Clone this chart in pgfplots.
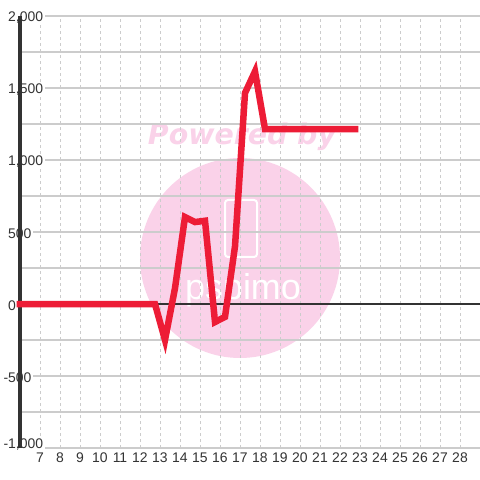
\documentclass[border=0pt]{standalone}
\usepackage{fontspec}
\setmainfont{Liberation Sans}
\newfontfamily\wmfont{DejaVu Sans}
\usepackage{pgfplots}
\pgfplotsset{compat=1.18}
\definecolor{linered}{RGB}{237,28,54}
\definecolor{wmpink}{RGB}{250,210,233}
\definecolor{gridgray}{RGB}{204,204,204}
\definecolor{axisdark}{RGB}{51,51,51}

\begin{document}
\begin{tikzpicture}
\path[use as bounding box, fill=white] (-20bp,-32bp) rectangle (460bp,448bp);
% watermark behind the grid
\fill[wmpink] (220bp,190bp) circle (100bp);
\node[wmpink, font=\wmfont\bfseries\itshape\fontsize{28.5}{29}\selectfont] at (222bp,311bp) {Powered by};
\draw[white, line width=2bp, rounded corners=3bp] (205bp,191bp) rectangle (237bp,248bp);
\node[white, font=\fontsize{36}{36}\selectfont] at (223bp,158bp) {pspimo};

\begin{axis}[
  scale only axis,
  width=460bp, height=432bp,
  xmin=6, xmax=29, ymin=-1000, ymax=2000,
  clip=false,
  axis line style={draw=none},
  major tick length=0pt, minor tick length=0pt,
  xtick={7,...,28},
  ytick={-500,0,...,2000},
  yticklabels={{\llap{-}500},{0},{500},{1,000},{1,500},{2,000}},
  extra y ticks={-1000},
  extra y tick labels={{{\llap{-}1{,}000}}},
  extra y tick style={yticklabel style={yshift=5bp}},
  minor ytick={-750,-250,...,1750},
  xmajorgrids, ymajorgrids, yminorgrids,
  x grid style={gridgray, line width=1bp, dash pattern=on 3bp off 3bp},
  y grid style={gridgray, line width=1.5bp},
  /pgf/number format/assume math mode=true,
  tick label style={font=\fontsize{14}{16}\selectfont, text=axisdark},
  yticklabel style={anchor=west, xshift=-13.5bp, yshift=-1.5bp, fill=white, inner sep=1.5bp},
  xticklabel style={yshift=-1bp},
]
\addplot[axisdark, line width=2.5bp, forget plot] coordinates {(6,0) (29,0)};
\addplot[axisdark, line width=3bp, forget plot] coordinates {(6,-1000) (6,2000)};
\addplot[linered, line width=6.5bp, line cap=rect, line join=miter] coordinates {
  (6,0) (12.75,0) (13.25,-250) (13.75,110) (14.25,604) (14.75,569)
  (15.25,578) (15.75,-125) (16.25,-90) (16.75,400) (17.25,1465)
  (17.75,1615) (18.25,1215) (22.75,1215)
};
\end{axis}
\end{tikzpicture}
\end{document}
